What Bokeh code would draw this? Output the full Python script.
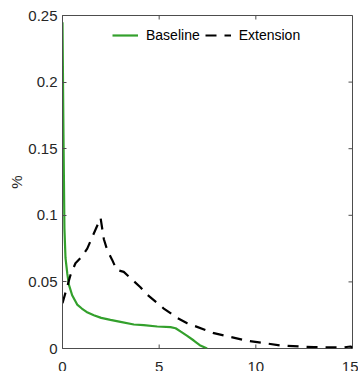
from bokeh.plotting import figure
from bokeh.layouts import column
from bokeh.models import Range1d, LinearAxis, Legend, LegendItem, FixedTicker
from bokeh.embed import file_html
from bokeh.resources import INLINE

# Baseline series
base_x = [0.0, 0.05, 0.1, 0.155, 0.25, 0.33, 0.5, 0.76, 1.0, 1.3, 1.62, 2.0, 2.48, 3.0, 3.69, 4.2, 4.9, 5.59, 5.85, 6.1, 6.45, 6.79, 7.1, 7.48]
base_y = [0.245, 0.16, 0.09, 0.068, 0.056, 0.048, 0.04, 0.033, 0.030, 0.027, 0.025, 0.023, 0.0215, 0.0200, 0.0180, 0.0175, 0.0165, 0.0160, 0.0152, 0.0128, 0.0095, 0.006, 0.0025, 0.0]

# Extension series
ext_x = [0.0, 0.41, 0.67, 1.0, 1.28, 1.97, 2.14, 2.31, 2.57, 2.8, 3.17, 3.6, 4.03, 4.29, 5.24, 5.93, 6.45, 7.83, 9.55, 11.28, 13.0, 14.5, 14.9, 15.0]
ext_y = [0.034, 0.055, 0.064, 0.069, 0.075, 0.098, 0.082, 0.074, 0.0665, 0.059, 0.0575, 0.0517, 0.046, 0.0416, 0.030, 0.023, 0.019, 0.0115, 0.0058, 0.0023, 0.0010, 0.0008, 0.0015, 0.0005]

x_ticks = [0, 5, 10, 15]
y_ticks = [0, 0.05, 0.1, 0.15, 0.2, 0.25]
y_tick_labels = {0: "0", 0.05: "0.05", 0.1: "0.1", 0.15: "0.15", 0.2: "0.2", 0.25: "0.25"}

X_MIN, X_MAX = 0, 15
Y_MIN, Y_MAX = 0, 0.25

axis_col = "#4d4d4d"
label_col = "#262626"
font = "Liberation Sans"

W, H = 358, 371
BL, BR, BT, BB = 62, 6, 15, 6
FRAME_BOTTOM = 348
MAIN_H = FRAME_BOTTOM + BB
STRIP_H = H - MAIN_H                     # strip under the box for the x tick labels
FW, FH = W - BL - BR, FRAME_BOTTOM - BT

xr = Range1d(X_MIN, X_MAX)

p = figure(width=W, height=MAIN_H, output_backend="svg", toolbar_location=None,
           x_range=xr, y_range=Range1d(Y_MIN, Y_MAX),
           x_axis_location=None, y_axis_location=None)
p.min_border_left = BL
p.min_border_right = BR
p.min_border_top = BT
p.min_border_bottom = BB
p.grid.visible = False
p.outline_line_color = axis_col
p.outline_line_width = 1
p.background_fill_color = "white"
p.border_fill_color = "white"

yl = LinearAxis(ticker=FixedTicker(ticks=y_ticks))
yl.axis_line_color = axis_col
yl.major_tick_line_color = axis_col
yl.major_tick_in = 4
yl.major_tick_out = 0
yl.minor_tick_line_color = None
yl.major_label_text_font = font
yl.major_label_text_font_size = "15px"
yl.major_label_text_color = label_col
yl.major_label_overrides = y_tick_labels
yl.major_label_standoff = 5
yl.axis_label = "%"
yl.axis_label_text_font = font
yl.axis_label_text_font_size = "15px"
yl.axis_label_text_font_style = "normal"
yl.axis_label_text_color = label_col
yl.axis_label_standoff = 0
p.add_layout(yl, "left")

# inward ticks on the bottom, top and right edges of the box (4 px long)
tick_len = 4
dy = tick_len * (Y_MAX - Y_MIN) / FH
dx = tick_len * (X_MAX - X_MIN) / FW
n = len(x_ticks)
p.segment(x0=x_ticks, y0=[Y_MAX] * n, x1=x_ticks, y1=[Y_MAX - dy] * n,
          line_color=axis_col, line_width=1)
p.segment(x0=x_ticks, y0=[Y_MIN] * n, x1=x_ticks, y1=[Y_MIN + dy] * n,
          line_color=axis_col, line_width=1)
p.segment(x0=[X_MAX] * len(y_ticks), y0=y_ticks, x1=[X_MAX - dx] * len(y_ticks), y1=y_ticks,
          line_color=axis_col, line_width=1)

r1 = p.line(base_x, base_y, line_color="#33a02c", line_width=2.2)
r2 = p.line(ext_x, ext_y, line_color="black", line_width=2.2, line_dash="11 8")

legend = Legend(items=[LegendItem(label="Baseline", renderers=[r1]),
                       LegendItem(label="Extension", renderers=[r2])],
                orientation="horizontal", location=(50, FH - 10 - 20))
legend.border_line_color = None
legend.background_fill_alpha = 0
legend.label_text_font = font
legend.label_text_font_size = "14px"
legend.label_text_color = "black"
legend.glyph_width = 26
legend.label_standoff = 8
legend.spacing = 5
legend.padding = 0
legend.margin = 0
p.add_layout(legend, "center")

# strip below the box: an x axis (labels only) on the same x range
strip = figure(width=W, height=STRIP_H, output_backend="svg", toolbar_location=None,
               x_range=xr, y_range=Range1d(0, 1),
               x_axis_location=None, y_axis_location=None)
strip.min_border_left = BL
strip.min_border_right = BR
strip.min_border_top = STRIP_H
strip.min_border_bottom = 0
strip.grid.visible = False
strip.outline_line_color = None
strip.background_fill_color = "white"
strip.border_fill_color = "white"
xa = LinearAxis(ticker=FixedTicker(ticks=x_ticks))
xa.axis_line_color = None
xa.major_tick_line_color = None
xa.minor_tick_line_color = None
xa.major_tick_in = 0
xa.major_tick_out = 0
xa.major_label_standoff = 0
xa.major_label_text_font = font
xa.major_label_text_font_size = "15px"
xa.major_label_text_color = label_col
strip.add_layout(xa, "above")

layout = column(p, strip, spacing=0)
open("out.html", "w").write(file_html(layout, INLINE))
